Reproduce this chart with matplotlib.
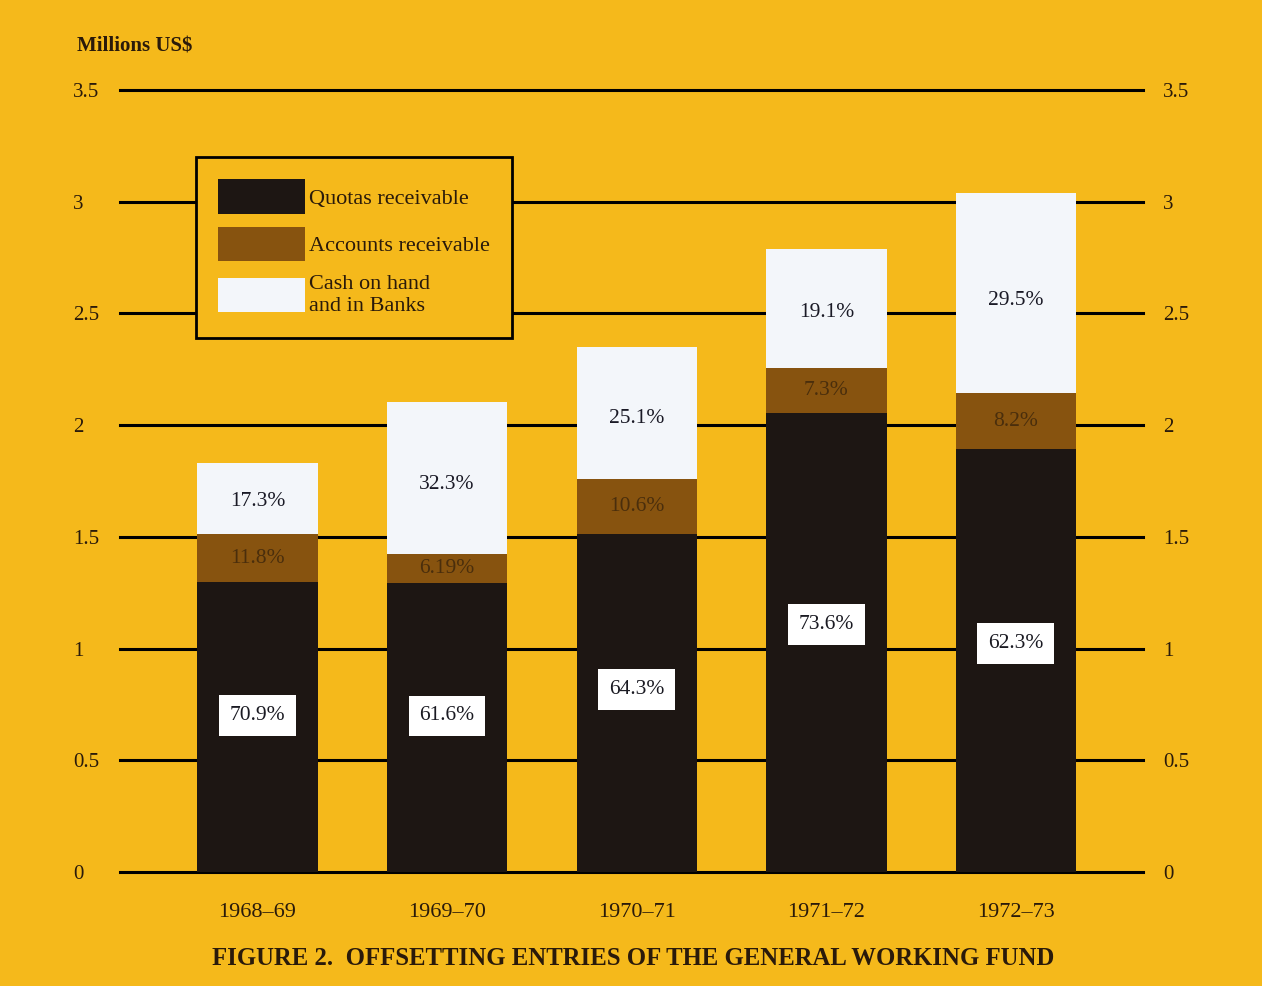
import matplotlib
matplotlib.use("Agg")
import matplotlib.pyplot as plt
from matplotlib.patches import Patch
from matplotlib.transforms import ScaledTranslation
import numpy as np

plt.rcParams['font.family'] = ['Liberation Serif', 'DejaVu Serif']

# fiscal years and the total of the fund (millions US$)
years = ["1968–69", "1969–70", "1970–71", "1971–72", "1972–73"]
totals = [1.83, 2.10, 2.35, 2.79, 3.04]

# share of each component, per cent of total
quotas_pct = [70.9, 61.6, 64.3, 73.6, 62.3]
accounts_pct = [11.8, 6.19, 10.6, 7.3, 8.2]
cash_pct = [17.3, 32.3, 25.1, 19.1, 29.5]

ticks = [0, 0.5, 1, 1.5, 2, 2.5, 3, 3.5]
tick_labels = ["0", "0.5", "1", "1.5", "2", "2.5", "3", "3.5"]

bg = "#F5B91B"
c_quota = "#1D1613"
c_acct = "#87530F"
c_cash = "#F3F6FA"
ink = "#2a1a0a"

fig = plt.figure(figsize=(12.62, 9.86), dpi=100, facecolor=bg)
ax = fig.add_axes([0.0951, 0.1156, 0.8106, 0.7931], facecolor=bg)

x = np.arange(len(years))
tot = np.array(totals)
q = tot * np.array(quotas_pct) / 100
a = tot * np.array(accounts_pct) / 100
c = tot * np.array(cash_pct) / 100

w = 0.635
ax.bar(x, q, w, color=c_quota, zorder=3)
ax.bar(x, a, w, bottom=q, color=c_acct, zorder=3)
ax.bar(x, c, w, bottom=q + a, color=c_cash, zorder=3)

for i in range(len(years)):
    # quotas: white tag in the black block
    ax.text(x[i], q[i] * 0.54, f"{quotas_pct[i]:g}%", ha="center", va="center",
            fontsize=15.5, color="#1a1a22", zorder=5,
            bbox=dict(boxstyle="square,pad=0.5", fc="white", ec="none"))
    ax.text(x[i], q[i] + a[i] / 2, f"{accounts_pct[i]:g}%", ha="center", va="center",
            fontsize=15.5, color="#4a2e0c", zorder=5)
    ax.text(x[i], q[i] + a[i] + c[i] * 0.46, f"{cash_pct[i]:g}%", ha="center",
            va="center", fontsize=15.5, color="#1a1a26", zorder=5)

ax.set_xlim(-0.725, 4.67)
ax.set_ylim(0, 3.5)
ax.set_yticks(ticks)
ax.set_yticklabels(tick_labels)
ax.yaxis.grid(True, color="black", linewidth=2.2, zorder=1)
ax.set_axisbelow(True)
for gl in ax.get_ygridlines():
    gl.set_clip_on(False)

ax.tick_params(axis="y", length=0, labelsize=15, pad=34, labelright=True, colors=ink)
# left labels are flush-left; right labels sit closer to the lines
shift = ScaledTranslation(-19.5 / 72, 0, fig.dpi_scale_trans)
for t in ax.yaxis.get_major_ticks():
    t.label1.set_horizontalalignment("left")
    t.label2.set_horizontalalignment("left")
    t.label2.set_transform(t.label2.get_transform() + shift)

ax.set_xticks(x)
ax.set_xticklabels(years, fontsize=16, color=ink)
ax.tick_params(axis="x", length=0, pad=22)
for s in ax.spines.values():
    s.set_visible(False)

fig.text(0.061, 0.953, "Millions US$", fontsize=15, fontweight="bold", color=ink,
         ha="left", va="center")

handles = [Patch(facecolor=c_quota, edgecolor="none"),
           Patch(facecolor=c_acct, edgecolor="none"),
           Patch(facecolor=c_cash, edgecolor="none")]
leg = ax.legend(handles, ["Quotas receivable", "Accounts receivable", "Cash on hand\nand in Banks"],
                loc="upper left", bbox_to_anchor=(0.0743, 0.914), fontsize=16,
                handlelength=3.9, handleheight=2.0, labelspacing=0.6, handletextpad=0.2,
                borderpad=1.0, borderaxespad=0, fancybox=False, framealpha=1,
                facecolor=bg, edgecolor="black")
leg.get_frame().set_linewidth(2)
leg.set_zorder(6)
for t in leg.get_texts():
    t.set_color(ink)

fig.text(0.502, 0.028, "FIGURE 2.  OFFSETTING ENTRIES OF THE GENERAL WORKING FUND",
         fontsize=17.8, fontweight="bold", color=ink, ha="center", va="center")

fig.savefig("out.png", dpi=100, facecolor=bg)
